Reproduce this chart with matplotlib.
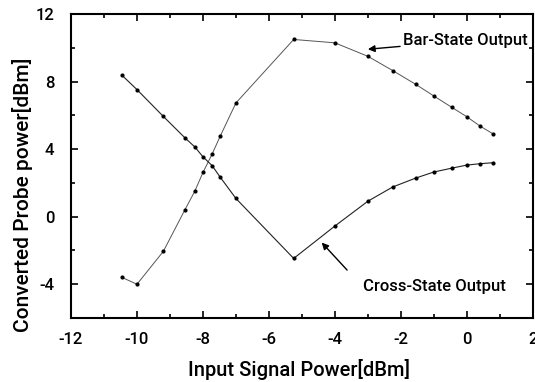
import matplotlib
matplotlib.use("Agg")
import matplotlib.pyplot as plt
from matplotlib.ticker import MultipleLocator

x_bar = [-10.45, -10.0, -9.2, -8.55, -8.25, -8.0, -7.72, -7.48, -7.0, -5.25, -4.0, -3.0, -2.25, -1.55, -1.0, -0.45, 0.0, 0.4, 0.8]
y_bar = [-3.6, -4.0, -2.05, 0.4, 1.5, 2.62, 3.72, 4.76, 6.74, 10.5, 10.3, 9.5, 8.66, 7.84, 7.15, 6.47, 5.92, 5.37, 4.9]

x_cross = [-10.45, -10.0, -9.2, -8.55, -8.25, -8.0, -7.72, -7.48, -7.0, -5.25, -4.0, -3.0, -2.25, -1.55, -1.0, -0.45, 0.0, 0.4, 0.8]
y_cross = [8.37, 7.53, 5.94, 4.68, 4.14, 3.55, 3.02, 2.35, 1.08, -2.47, -0.55, 0.92, 1.76, 2.29, 2.65, 2.88, 3.06, 3.14, 3.2]

xlabel = "Input Signal Power[dBm]"
ylabel = "Converted Probe power[dBm]"

plt.rcParams['font.family'] = ['Roboto', 'DejaVu Sans']
plt.rcParams['font.weight'] = 'medium'
plt.rcParams['axes.unicode_minus'] = False

fig = plt.figure(figsize=(5.35, 3.82), dpi=100)
ax = fig.add_axes([0.1327, 0.1675, 0.8633, 0.7955])

ax.plot(x_bar, y_bar, color='#555555', lw=0.7, marker='o', ms=2.0, mfc='black', mec='black')
ax.plot(x_cross, y_cross, color='#222222', lw=0.8, marker='o', ms=2.0, mfc='black', mec='black')

ax.set_xlim(-12, 2)
ax.set_ylim(-6, 12)
ax.xaxis.set_major_locator(MultipleLocator(2))
ax.xaxis.set_minor_locator(MultipleLocator(1))
ax.yaxis.set_major_locator(MultipleLocator(4))
ax.yaxis.set_minor_locator(MultipleLocator(2))
ax.tick_params(which='both', direction='in', top=True, right=True, labelsize=12, width=1.2)
ax.tick_params(which='major', length=5)
ax.tick_params(which='minor', length=3)
ax.tick_params(axis='x', pad=10)
ax.tick_params(axis='y', pad=12)
for lab in ax.get_xticklabels() + ax.get_yticklabels():
    lab.set_fontweight('medium')
for s in ax.spines.values():
    s.set_linewidth(1.5)

ax.set_xlabel(xlabel, fontsize=14.5, fontweight='medium')
ax.set_ylabel(ylabel, fontsize=15, fontweight='medium')
# label centres (pixel positions relative to the axes)
ax.xaxis.set_label_coords(0.494, -0.135)
ax.yaxis.set_label_coords(-0.083, 0.405)

ax.annotate("Bar-State Output", xy=(-3.0, 9.92), xytext=(-1.94, 10.43),
            fontsize=12, va='center', ha='left',
            arrowprops=dict(arrowstyle='-|>', color='black', lw=1.0, mutation_scale=10,
                            shrinkA=0, shrinkB=0))
ax.text(-3.16, -4.14, "Cross-State Output", fontsize=12, va='center', ha='left')
ax.annotate("", xy=(-4.40, -1.53), xytext=(-3.63, -3.16),
            arrowprops=dict(arrowstyle='-|>', color='black', lw=1.0, mutation_scale=10,
                            shrinkA=0, shrinkB=0))

fig.savefig("out.png", dpi=100)
